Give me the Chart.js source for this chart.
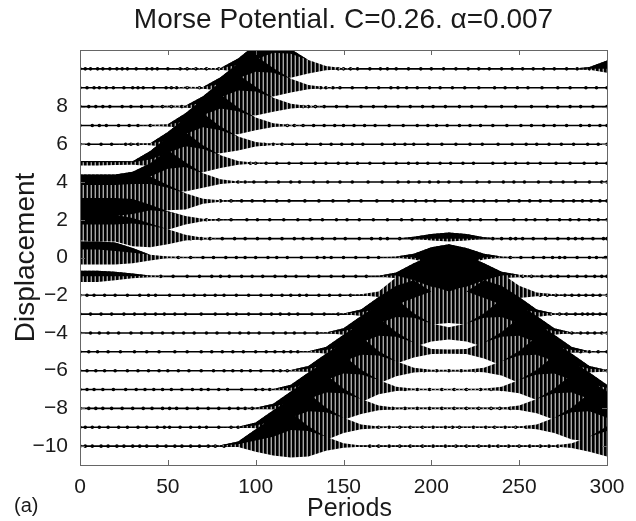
<!DOCTYPE html>
<html>
<head>
<meta charset="utf-8">
<style>body { margin: 0; background: #fff; }</style>
</head>
<body>
<canvas id="morseChart" width="636" height="521"></canvas>
<script src="https://cdn.jsdelivr.net/npm/chart.js"></script>
<script>
    // Envelopes, one value per entry of periods.
    // hi: top of the trace above its site, mid: bottom of the solid black part, lo: depth below the site
    const periods = [0,10,20,30,40,50,60,70,80,90, 100,110,120,130,140,150,160,170,180,190, 200,210,220,230,240,250,260,270,280,290, 300];
    const sites = [10,9,8,7,6,5,4,3,2,1,0,-1,-2,-3,-4,-5,-6,-7,-8,-9,-10];
    const xTicks = [0,50,100,150,200,250,300];
    const yTicks = [-10,-8,-6,-4,-2,0,2,4,6,8];

    const hi10 = [0,0,0,0,0,0,.03,.04,.04,.55, 1.3,1.7,1.05,.47,.15,.03,0,0,0,0, 0,0,0,0,0,0,0,0,0,.1, .45];
    const mid10 = [0,0,0,0,0,0,.03,.04,.04,.2, .5,.85,.8,.47,.15,.03,0,0,0,0, 0,0,0,0,0,0,0,0,0,0, 0];
    const lo10 = [0,0,0,0,0,0,0,0,.05,.15, .3,.42,.47,.25,.07,.02,0,0,0,0, 0,0,0,0,0,0,0,0,0,.05, .2];

    const hi9 = [0,0,0,0,0,0,.05,.04,.55,1.3, 1.7,1.05,.47,.15,.03,0,0,0,0,0, 0,0,0,0,0,0,0,0,0,0, 0];
    const mid9 = [0,0,0,0,0,0,.05,.04,.2,.5, .85,.8,.47,.15,.03,0,0,0,0,0, 0,0,0,0,0,0,0,0,0,0, 0];
    const lo9 = [0,0,0,0,0,0,0,.05,.15,.3, .42,.47,.25,.08,.02,0,0,0,0,0, 0,0,0,0,0,0,0,0,0,0, 0];

    const hi8 = [0,0,0,0,0,.05,.04,.55,1.3,1.7, 1.05,.47,.15,.03,0,0,0,0,0,0, 0,0,0,0,0,0,0,0,0,0, 0];
    const mid8 = [0,0,0,0,0,.05,.04,.2,.5,.85, .8,.47,.15,.03,0,0,0,0,0,0, 0,0,0,0,0,0,0,0,0,0, 0];
    const lo8 = [0,0,0,0,0,0,.05,.15,.3,.42, .47,.28,.1,.03,0,0,0,0,0,0, 0,0,0,0,0,0,0,0,0,0, 0];

    const hi7 = [0,0,0,0,.03,.06,.65,1.4,1.65,.95, .42,.12,.02,0,0,0,0,0,0,0, 0,0,0,0,0,0,0,0,0,0, 0];
    const mid7 = [0,0,0,0,.03,.06,.2,.55,.9,.75, .42,.12,.02,0,0,0,0,0,0,0, 0,0,0,0,0,0,0,0,0,0, 0];
    const lo7 = [0,0,0,0,0,.05,.15,.32,.44,.47, .25,.08,.02,0,0,0,0,0,0,0, 0,0,0,0,0,0,0,0,0,0, 0];

    const hi6 = [0,0,0,.04,.06,.65,1.4,1.65,.95,.42, .12,.02,0,0,0,0,0,0,0,0, 0,0,0,0,0,0,0,0,0,0, 0];
    const mid6 = [0,0,0,.04,.06,.2,.55,.9,.75,.42, .12,.02,0,0,0,0,0,0,0,0, 0,0,0,0,0,0,0,0,0,0, 0];
    const lo6 = [0,0,0,0,.05,.15,.32,.44,.47,.33, .12,.03,0,0,0,0,0,0,0,0, 0,0,0,0,0,0,0,0,0,0, 0];

    const hi5 = [.12,.12,.12,.1,.65,1.4,1.65,.95,.42,.12, .02,0,0,0,0,0,0,0,0,0, 0,0,0,0,0,0,0,0,0,0, 0];
    const mid5 = [.05,.05,.05,.05,.2,.55,.9,.75,.42,.12, .02,0,0,0,0,0,0,0,0,0, 0,0,0,0,0,0,0,0,0,0, 0];
    const lo5 = [.12,.12,.1,.08,.15,.32,.44,.48,.25,.08, .02,0,0,0,0,0,0,0,0,0, 0,0,0,0,0,0,0,0,0,0, 0];

    const hi4 = [.4,.4,.4,.55,1,1.7,1.05,.47,.15,.03, 0,0,0,0,0,0,0,0,0,0, 0,0,0,0,0,0,0,0,0,0, 0];
    const mid4 = [-.1,-.1,-.1,0,.3,.7,.8,.47,.15,.03, 0,0,0,0,0,0,0,0,0,0, 0,0,0,0,0,0,0,0,0,0, 0];
    const lo4 = [.2,.2,.2,.25,.38,.46,.5,.3,.1,.03, 0,0,0,0,0,0,0,0,0,0, 0,0,0,0,0,0,0,0,0,0, 0];

    const hi3 = [1.35,1.35,1.35,1.3,1.3,.85,.4,.12,.03,0, 0,0,0,0,0,0,0,0,0,0, 0,0,0,0,0,0,0,0,0,0, 0];
    const mid3 = [.85,.85,.85,.9,.9,.7,.4,.12,.03,0, 0,0,0,0,0,0,0,0,0,0, 0,0,0,0,0,0,0,0,0,0, 0];
    const lo3 = [.5,.5,.5,.5,.5,.5,.45,.15,.05,0, 0,0,0,0,0,0,0,0,0,0, 0,0,0,0,0,0,0,0,0,0, 0];

    const hi2 = [1.15,1.15,1.15,1.1,.8,.45,.2,.05,0,0, 0,0,0,0,0,0,0,0,0,0, 0,0,0,0,0,0,0,0,0,0, 0];
    const mid2 = [.2,.2,.2,.3,.5,.42,.2,.05,0,0, 0,0,0,0,0,0,0,0,0,0, 0,0,0,0,0,0,0,0,0,0, 0];
    const lo2 = [.5,.5,.5,.5,.5,.53,.25,.08,.02,0, 0,0,0,0,0,0,0,0,0,0, 0,0,0,0,0,0,0,0,0,0, 0];

    const hi1 = [1.2,1.25,1.25,1.1,.8,.5,.2,.05,0,0, 0,0,0,0,0,0,0,0,0,.1, .25,.32,.25,.08,0,0,0,0,0,0, 0];
    const mid1 = [.75,.75,.75,.8,.7,.5,.2,.05,0,0, 0,0,0,0,0,0,0,0,0,0, 0,0,0,0,0,0,0,0,0,0, 0];
    const lo1 = [.1,.15,.15,.4,.45,.3,.1,.03,0,0, 0,0,0,0,0,0,0,0,0,0, .1,.15,.1,0,0,0,0,0,0,0, 0];

    const hi0 = [.85,.85,.8,.5,.15,.05,.03,0,0,0, 0,0,0,0,0,0,0,0,.05,.2, .55,.7,.5,.2,.05,0,0,0,0,0, 0];
    const mid0 = [.42,.42,.35,.25,.15,.05,.03,0,0,0, 0,0,0,0,0,0,0,0,.05,0, -.3,-.4,-.3,0,.05,0,0,0,0,0, 0];
    const lo0 = [.37,.37,.37,.3,.16,.03,0,0,0,0, 0,0,0,0,0,0,0,0,0,.1, .3,.4,.3,.1,0,0,0,0,0,0, 0];

    const him1 = [.3,.3,.25,.15,.05,0,0,0,0,0, 0,0,0,0,0,0,0,.03,.2,.7, 1.1,1.3,1.1,.7,.25,.08,.03,0,0,0, 0];
    const midm1 = [0,0,0,0,.05,0,0,0,0,0, 0,0,0,0,0,0,0,.03,.05,-.2, -.55,-.7,-.55,-.2,.05,.08,.03,0,0,0, 0];
    const lom1 = [.3,.3,.2,.1,.04,0,0,0,0,0, 0,0,0,0,0,0,0,0,.1,.3, .6,.7,.6,.3,.1,.03,0,0,0,0, 0];

    const him2 = [0,0,0,0,0,0,0,0,0,0, 0,0,0,0,0,0,.05,.2,.95,1.4, 1.6,1.6,1.6,1.5,1.15,.5,.15,.05,0,0, 0];
    const midm2 = [0,0,0,0,0,0,0,0,0,0, 0,0,0,0,0,0,.05,.2,.95,1.4, .5,.2,.5,1.5,1.15,.5,.15,.05,0,0, 0];
    const lom2 = [0,0,0,0,0,0,0,0,0,0, 0,0,0,0,0,0,0,.1,.3,.5, .5,.5,.5,.5,.35,.15,.05,0,0,0, 0];

    const him3 = [0,0,0,0,0,0,0,0,0,0, 0,0,0,0,0,.03,.25,.9,1.5,1.8, 1.2,1.17,1.2,1.8,1.5,.9,.25,.03,0,0, 0];
    const midm3 = [0,0,0,0,0,0,0,0,0,0, 0,0,0,0,0,.03,.1,.3,.5,.85, 1.2,1.17,1.2,.85,.5,.3,.1,.03,0,0, 0];
    const lom3 = [0,0,0,0,0,0,0,0,0,0, 0,0,0,0,0,0,.1,.4,.6,.75, .55,.47,.55,.75,.7,.4,.15,.03,0,0, 0];

    const him4 = [0,0,0,0,0,0,0,0,0,0, 0,0,0,0,.03,.25,.9,1.5,1.8,1.05, .5,.3,.5,1.05,1.8,1.5,.9,.25,.03,0, 0];
    const midm4 = [0,0,0,0,0,0,0,0,0,0, 0,0,0,0,.03,.1,.3,.5,.85,.8, .5,.3,.5,.8,.85,.5,.3,.1,.03,0, 0];
    const lom4 = [0,0,0,0,0,0,0,0,0,0, 0,0,0,0,0,.1,.3,.5,.7,.75, .45,.35,.45,.75,.7,.5,.3,.1,0,0, 0];

    const him5 = [0,0,0,0,0,0,0,0,0,0, 0,0,0,.03,.25,.9,1.5,1.8,1.05,.5, .15,.12,.15,.5,1.05,1.8,1.5,.9,.25,.03, 0];
    const midm5 = [0,0,0,0,0,0,0,0,0,0, 0,0,0,.03,.1,.3,.5,.85,.8,.5, .15,.12,.15,.5,.8,.85,.5,.3,.1,.03, 0];
    const lom5 = [0,0,0,0,0,0,0,0,0,0, 0,0,0,0,.1,.3,.5,.72,.62,.3, .12,.1,.12,.35,.72,.7,.45,.15,.04,0, 0];

    const him6 = [0,0,0,0,0,0,0,0,0,0, 0,0,.03,.25,.9,1.5,1.8,1.05,.5,.15, .05,.05,.05,.15,.5,1.05,1.8,1.5,.9,.25, .03];
    const midm6 = [0,0,0,0,0,0,0,0,0,0, 0,0,.03,.1,.3,.5,.85,.8,.5,.15, .05,.05,.05,.15,.5,.8,.85,.5,.3,.1, .03];
    const lom6 = [0,0,0,0,0,0,0,0,0,0, 0,0,0,.05,.3,.5,.7,.68,.3,.1, .04,.03,.04,.08,.25,.65,.72,.65,.35,.1, .04];

    const him7 = [0,0,0,0,0,0,0,0,0,0, 0,.03,.25,.9,1.5,1.8,1.05,.5,.15,.04, .03,.03,.03,.04,.15,.5,1.05,1.8,1.5,.9, .25];
    const midm7 = [0,0,0,0,0,0,0,0,0,0, 0,.03,.1,.3,.5,.85,.8,.5,.15,.04, .03,.03,.03,.04,.15,.5,.8,.85,.5,.3, .1];
    const lom7 = [0,0,0,0,0,0,0,0,0,0, 0,0,.05,.3,.5,.7,.68,.25,.08,.03, .03,.03,.03,.03,.07,.2,.55,.72,.7,.4, .15];

    const him8 = [0,0,0,0,0,0,0,0,0,0, .03,.25,.9,1.5,1.8,1.05,.5,.15,.04,.03, .03,.03,.03,.03,.04,.15,.5,1.05,1.8,1.5, .9];
    const midm8 = [0,0,0,0,0,0,0,0,0,0, .03,.1,.3,.5,.85,.8,.5,.15,.04,.03, .03,.03,.03,.03,.04,.15,.5,.8,.85,.5, .3];
    const lom8 = [0,0,0,0,0,0,0,0,0,0, 0,.05,.3,.5,.7,.6,.3,.1,.05,.03, .03,.03,.03,.03,.03,.08,.25,.6,.72,.7, .5];

    const him9 = [0,0,0,0,0,0,0,0,0,.03, .25,.9,1.5,1.8,1.05,.5,.15,.04,.03,.03, .03,.03,.03,.03,.03,.04,.15,.5,1.05,1.8, 1.5];
    const midm9 = [0,0,0,0,0,0,0,0,0,.03, .1,.3,.5,.85,.8,.5,.15,.04,.03,.03, .03,.03,.03,.03,.03,.04,.15,.5,.8,.85, .5];
    const lom9 = [0,0,0,0,0,0,0,0,0,0, .05,.3,.6,.7,.68,.3,.1,.05,.03,.03, .03,.03,.03,.03,.03,.03,.1,.3,.65,.75, .75];

    const him10 = [0,0,0,0,0,0,0,0,.05,.25, .9,1.5,1.8,1.05,.5,.15,.03,.03,.03,.03, .03,.03,.03,.03,.03,.03,.03,.03,.15,.5, 1.05];
    const midm10 = [0,0,0,0,0,0,0,0,.03,.1, .3,.5,.85,.8,.5,.15,.03,.03,.03,.03, .03,.03,.03,.03,.03,.03,.03,.03,.15,.5, .8];
    const lom10 = [0,0,0,0,0,0,0,0,0,.05, .3,.5,.6,.55,.25,.08,.03,.02,.02,.02, .02,.02,.02,.02,.02,.02,.02,.02,.1,.3, .55];

    // Beads along each baseline
    const beads10 = [0,3,6,10,13,17,21,24,27,32,38,41,44,50,57,61,66,72,79,147,150,154,158,165,171,175,180,187,194,200,207,214,221,227,233,240,246,252,258,264,270,277,283,290,300];
    const beads9 = [0,4,8,11,15,19,25,30,33,36,42,49,52,55,61,68,137,140,144,148,155,163,170,177,181,186,192,199,205,212,219,227,236,242,249,255,263,272,279,288,294,300];
    const beads8 = [0,5,9,13,17,24,29,35,41,47,52,58,127,130,134,139,146,152,160,167,174,181,188,195,201,208,216,223,231,240,248,257,266,272,279,285,292,300];
    const beads7 = [0,7,11,15,22,28,33,40,118,122,127,133,139,145,150,156,162,168,176,184,192,198,203,209,216,222,228,235,243,251,257,264,270,277,285,290,296,300];
    const beads6 = [0,5,12,18,26,29,33,105,110,115,121,129,137,143,149,155,161,172,179,185,190,198,206,214,222,229,238,246,254,260,267,274,281,289,295,300];
    const beads5 = [0,3,10,16,22,97,100,106,112,119,126,134,140,147,152,158,165,173,180,187,192,198,205,211,218,224,235,242,248,255,262,271,279,287,294,300];
    const beads4 = [0,90,94,99,106,113,120,125,133,141,148,155,164,172,181,187,193,199,204,210,217,226,233,241,247,253,261,268,275,282,290,297,300];
    const beads3 = [0,80,86,92,98,105,112,119,128,136,144,153,160,169,178,184,191,197,202,211,218,224,230,237,244,250,256,262,268,275,281,286,291,296,300];
    const beads2 = [0,72,79,86,95,101,108,116,124,131,138,146,152,159,167,175,183,189,196,203,209,215,222,228,237,247,254,259,266,273,279,284,290,295,300];
    const beads1 = [0,63,69,74,81,88,94,101,108,115,122,127,132,138,145,151,159,166,171,175,182,189,235,240,245,248,252,258,265,272,278,282,286,292,298,300];
    const beads0 = [0,56,63,70,76,83,89,94,100,107,112,118,126,135,139,143,150,157,164,170,245,251,258,264,269,273,276,283,290,294,299,300];
    const beadsm1 = [0,46,53,61,68,75,80,85,92,98,104,111,117,123,130,136,143,150,157,163,252,257,263,268,272,278,283,288,293,297,300];
    const beadsm2 = [0,4,8,14,20,27,34,39,43,51,59,65,71,77,82,89,96,103,109,115,120,125,129,136,142,148,154,262,266,271,276,280,284,288,292,296,300];
    const beadsm3 = [0,6,12,18,25,31,37,43,48,54,60,69,77,84,89,96,103,109,114,119,124,132,139,147,268,273,277,282,286,289,292,296,300];
    const beadsm4 = [0,6,11,16,22,29,35,41,47,53,59,65,72,78,85,91,96,102,110,117,122,128,135,280,285,289,293,297,300];
    const beadsm5 = [0,5,10,16,23,31,38,45,54,61,69,75,81,87,93,100,106,111,116,120,124,205,215,285,290,295,300];
    const beadsm6 = [0,4,9,14,20,27,33,39,45,50,56,62,69,76,82,87,92,97,103,110,114,118,196,203,210,217,225,300];
    const beadsm7 = [0,4,8,13,19,26,32,37,42,47,52,58,64,69,73,79,84,92,100,104,108,185,192,199,206,213,220,228,234,240,300];
    const beadsm8 = [0,5,9,13,18,24,30,36,41,47,51,55,61,67,73,79,85,90,94,98,178,185,192,199,206,213,220,227,234,239,245,300];
    const beadsm9 = [0,3,7,11,16,22,27,33,38,44,48,51,57,63,68,72,79,86,90,170,176,182,188,195,201,208,212,216,224,231,236,242,248,254,300];
    const beadsm10 = [0,3,7,12,16,21,25,30,34,38,44,49,54,58,63,68,73,77,82,165,170,176,182,188,195,201,208,214,220,227,233,238,244,250,256,262,267,272,300];

    const hi = [hi10,hi9,hi8,hi7,hi6,hi5,hi4,hi3,hi2,hi1,hi0,him1,him2,him3,him4,him5,him6,him7,him8,him9,him10];
    const mid = [mid10,mid9,mid8,mid7,mid6,mid5,mid4,mid3,mid2,mid1,mid0,midm1,midm2,midm3,midm4,midm5,midm6,midm7,midm8,midm9,midm10];
    const lo = [lo10,lo9,lo8,lo7,lo6,lo5,lo4,lo3,lo2,lo1,lo0,lom1,lom2,lom3,lom4,lom5,lom6,lom7,lom8,lom9,lom10];
    const beads = [beads10,beads9,beads8,beads7,beads6,beads5,beads4,beads3,beads2,beads1,beads0,beadsm1,beadsm2,beadsm3,beadsm4,beadsm5,beadsm6,beadsm7,beadsm8,beadsm9,beadsm10];

    const ctx = document.getElementById('morseChart').getContext('2d');

    // the fast oscillation shows as fine vertical stripes
    const tile = document.createElement('canvas');
    tile.width = 4;
    tile.height = 1;
    const tileCtx = tile.getContext('2d');
    ['#000', '#000', '#444', '#a8a8a8'].forEach((c, i) => {
        tileCtx.fillStyle = c;
        tileCtx.fillRect(i, 0, 1, 1);
    });
    const stripes = ctx.createPattern(tile, 'repeat');

    function edge(site, values, sign, fill, color) {
        return {
            data: values.map((v, i) => ({ x: periods[i], y: site + sign * v })),
            borderWidth: 0,
            pointRadius: 0,
            fill: fill,
            backgroundColor: color
        };
    }

    // the filler paints the lowest index last, so the solid parts come first
    const datasets = [];
    sites.forEach((site, i) => {
        datasets.push(edge(site, hi[i], 1, '+1', '#000'));
        datasets.push(edge(site, mid[i], 1, false, '#000'));
    });
    sites.forEach((site, i) => {
        datasets.push(edge(site, hi[i], 1, '+1', stripes));
        datasets.push(edge(site, lo[i], -1, false, stripes));
    });
    sites.forEach((site, i) => {
        datasets.push({
            data: beads[i].map(p => ({ x: p, y: site })),
            borderColor: '#000',
            borderWidth: 1.6,
            pointRadius: 1.8,
            pointBackgroundColor: '#000',
            pointBorderWidth: 0,
            fill: false
        });
    });

    const frame = {
        id: 'frame',
        afterDraw(chart) {
            const { ctx, chartArea: a, scales } = chart;
            ctx.save();
            ctx.strokeStyle = '#666';
            ctx.lineWidth = 1;
            ctx.strokeRect(a.left + .5, a.top + .5, a.right - a.left, a.bottom - a.top);
            ctx.beginPath();
            xTicks.forEach(v => {
                const x = Math.round(scales.x.getPixelForValue(v)) + .5;
                ctx.moveTo(x, a.bottom);
                ctx.lineTo(x, a.bottom - 5);
                ctx.moveTo(x, a.top);
                ctx.lineTo(x, a.top + 5);
            });
            yTicks.forEach(v => {
                const y = Math.round(scales.y.getPixelForValue(v)) + .5;
                ctx.moveTo(a.left, y);
                ctx.lineTo(a.left + 5, y);
                ctx.moveTo(a.right, y);
                ctx.lineTo(a.right - 5, y);
            });
            ctx.stroke();
            ctx.fillStyle = '#1a1a1a';
            ctx.font = '20px "Liberation Sans"';
            ctx.fillText('(a)', 14, 512);
            ctx.font = '25px "Liberation Sans"';
            ctx.textAlign = 'center';
            ctx.fillText('Periods', 349.5, 516);
            ctx.restore();
        }
    };

    new Chart(ctx, {
        type: 'line',
        data: { datasets: datasets },
        plugins: [frame],
        options: {
            responsive: false,
            animation: false,
            layout: { padding: { right: 29, left: 0, top: 0, bottom: 0 } },
            plugins: {
                legend: { display: false },
                tooltip: { enabled: false },
                title: {
                    display: true,
                    fullSize: false,
                    text: 'Morse Potential. C=0.26. α=0.007',
                    color: '#1a1a1a',
                    font: { family: '"Liberation Sans"', size: 28, weight: 'normal' },
                    padding: { top: 3, bottom: 13.4 }
                }
            },
            scales: {
                x: {
                    type: 'linear',
                    min: 0,
                    max: 300,
                    afterBuildTicks: s => { s.ticks = xTicks.map(v => ({ value: v })); },
                    afterFit: s => { s.height = 56; },
                    grid: { display: false },
                    border: { display: false },
                    ticks: {
                        color: '#1a1a1a',
                        font: { family: '"Liberation Sans"', size: 21 },
                        padding: 2,
                        maxRotation: 0
                    }
                },
                y: {
                    type: 'linear',
                    min: -11,
                    max: 11,
                    afterBuildTicks: s => { s.ticks = yTicks.map(v => ({ value: v })); },
                    afterFit: s => { s.width = 80; },
                    grid: { display: false },
                    border: { display: false },
                    ticks: {
                        color: '#1a1a1a',
                        font: { family: '"Liberation Sans"', size: 21 },
                        padding: 4,
                        callback: v => String(v).replace('-', '\u2212')
                    },
                    title: {
                        display: true,
                        text: 'Displacement',
                        color: '#1a1a1a',
                        font: { family: '"Liberation Sans"', size: 28 },
                        padding: { top: 9, bottom: 0 }
                    }
                }
            }
        }
    });
</script>
</body>
</html>
